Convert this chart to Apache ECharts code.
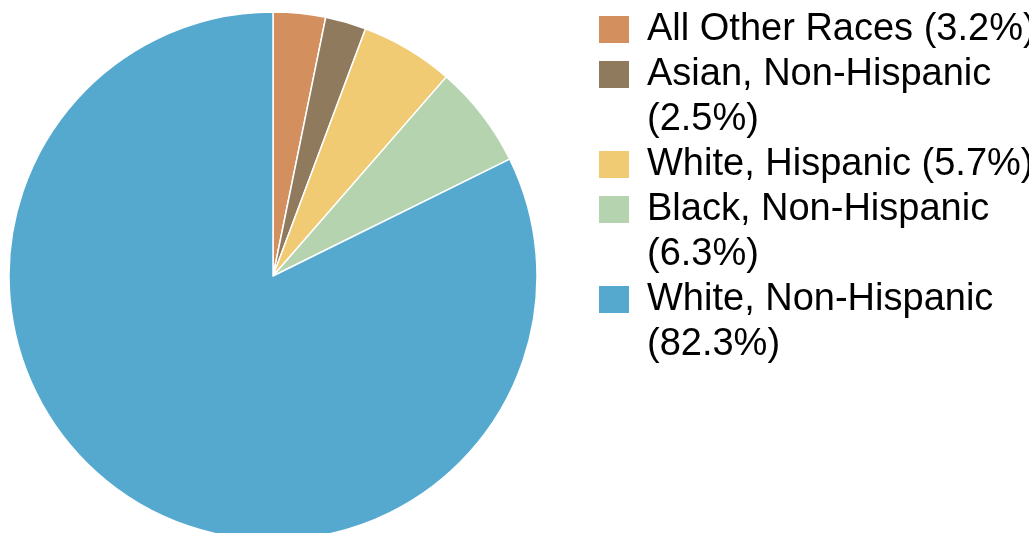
<!DOCTYPE html>
<html>
<head>
<meta charset="utf-8">
<script src="https://cdn.jsdelivr.net/npm/echarts@6/dist/echarts.min.js"></script>
<style>
  html, body { margin: 0; padding: 0; background: #fff; }
  #chart { width: 1029px; height: 533px; }
</style>
</head>
<body>
<div id="chart"></div>
<script>
// race groups, clockwise from 12 o'clock
const groups = ['All Other Races', 'Asian, Non-Hispanic', 'White, Hispanic', 'Black, Non-Hispanic', 'White, Non-Hispanic']
const shares = [3.2, 2.5, 5.7, 6.3, 82.3]
const colors = ['#d38f5d', '#8f7a5e', '#f1cb74', '#b5d3af', '#56a9ce']

const LINE = 45
const ICON_H = 29

const labelFor = (name, i) => `${name} (${shares[i]}%)`
// long labels wrap the percentage onto a second line
const wraps = groups.map((g, i) => labelFor(g, i).length > 22)

const chart = echarts.init(document.getElementById('chart'))

// one legend per entry so the wrapped ones keep the box on the first line
let lineNo = 0
const legends = groups.map((name, i) => {
  const iconTop = 15 + LINE * lineNo
  const offset = (LINE - ICON_H) / 2 + (wraps[i] ? LINE : 0)
  lineNo += wraps[i] ? 2 : 1
  return {
    data: [name],
    orient: 'vertical',
    left: 597,
    top: iconTop - offset,
    padding: 0,
    itemWidth: 32,
    itemHeight: ICON_H,
    icon: 'rect',
    selectedMode: false,
    textStyle: {
      color: '#000',
      fontFamily: 'Liberation Sans, Arial, sans-serif',
      fontSize: 38,
      lineHeight: LINE,
      padding: [0, 0, 0, 12]
    },
    formatter: () => wraps[i]
      ? `\n${name}\n(${shares[i]}%)`
      : labelFor(name, i)
  }
})

chart.setOption({
  animation: false,
  color: colors,
  legend: legends,
  series: [
    {
      type: 'pie',
      center: [273, 276],
      radius: 264,
      startAngle: 90,
      clockwise: true,
      label: { show: false },
      labelLine: { show: false },
      itemStyle: { borderColor: '#fff', borderWidth: 1.5 },
      emphasis: { disabled: true },
      data: groups.map((name, i) => ({ name, value: shares[i] }))
    }
  ]
})
</script>
</body>
</html>
